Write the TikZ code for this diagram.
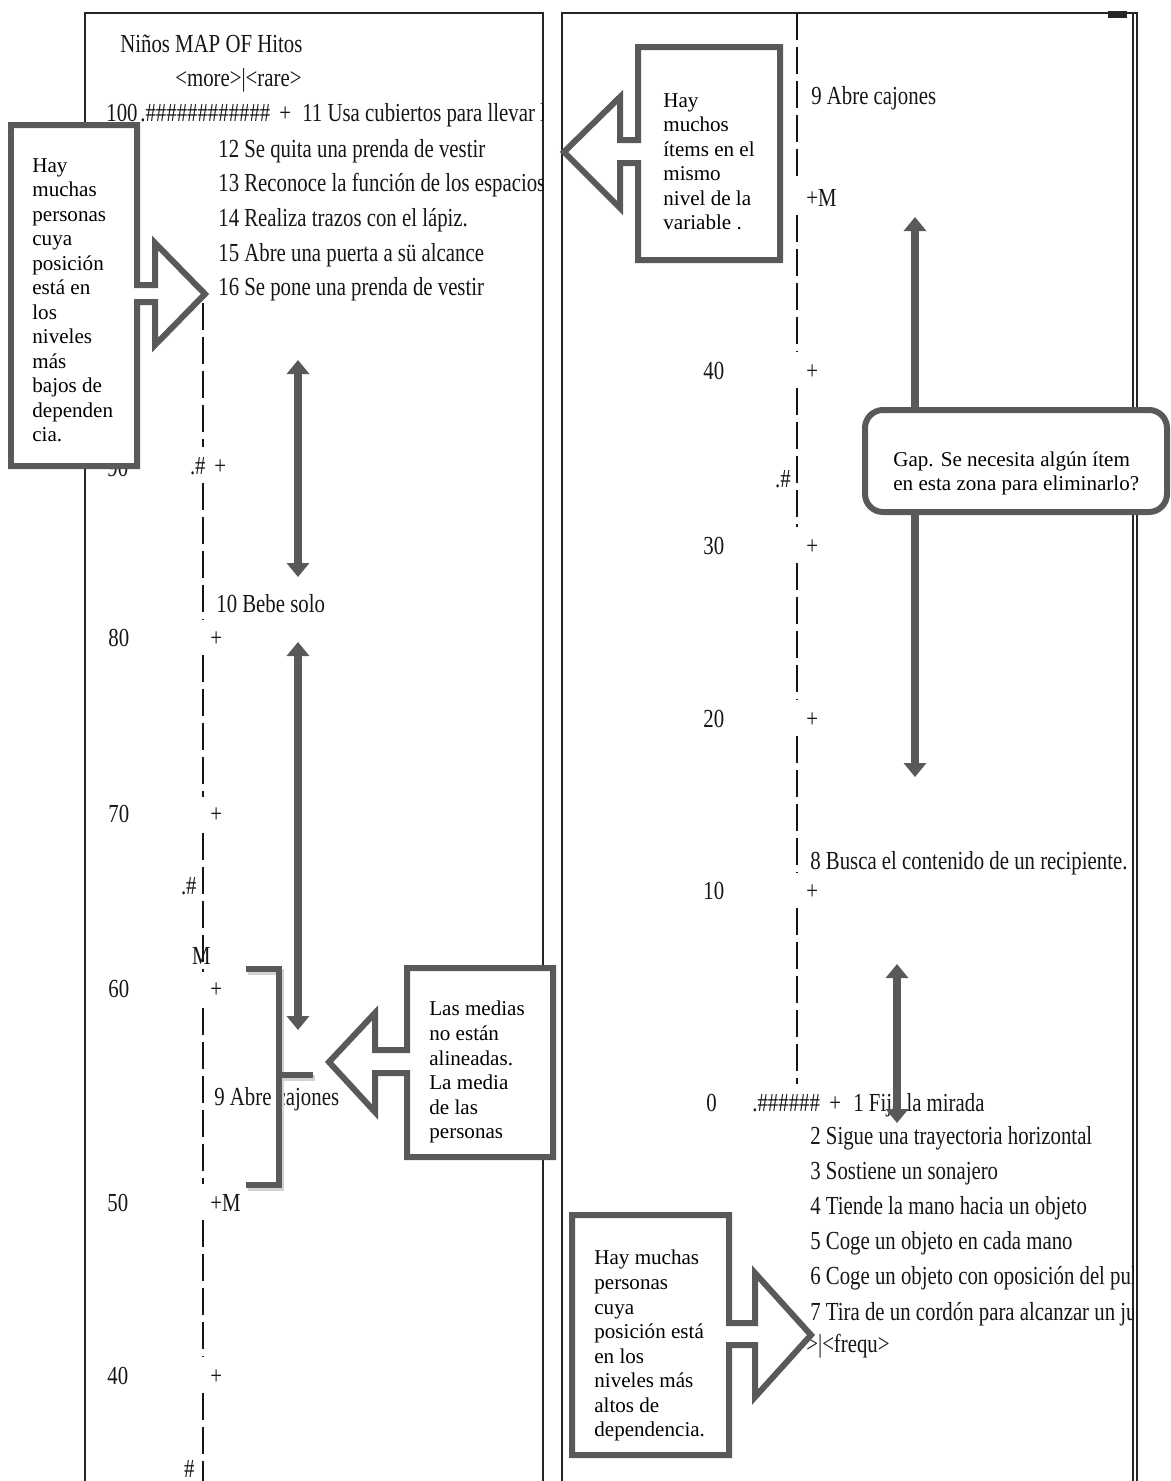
\documentclass[tikz,border=0pt]{standalone}
\usepackage{fontspec}
\setmainfont{Liberation Serif}
\newfontfamily\scanfont[FakeStretch=0.8]{Liberation Serif}
\usepackage{xcolor}
\usetikzlibrary{arrows.meta}
\definecolor{annotgray}{RGB}{89,89,89}
\definecolor{scanink}{RGB}{22,22,22}
\tikzset{
  scantxt/.style={anchor=base west, inner sep=0pt, text=scanink, font=\scanfont\fontsize{14.8pt}{17pt}\selectfont},
  scantxtr/.style={scantxt, anchor=base east},
  calltxt/.style={anchor=north west, inner sep=0pt, align=left, font=\fontsize{12pt}{13.95pt}\selectfont},
  callbox/.style={draw=annotgray, line width=0.12cm, fill=white, line join=miter},
  dblarr/.style={draw=annotgray, line width=0.17cm, {Triangle[width=0.44cm,length=0.28cm]}-{Triangle[width=0.44cm,length=0.28cm]}},
  bracketline/.style={draw=annotgray, line width=0.11cm},
  axisline/.style={draw=scanink, line width=0.025cm, dash pattern=on 0.54cm off 0.14cm},
  frameline/.style={draw=black!85, line width=0.028cm}
}

\begin{document}
\begin{tikzpicture}[x=0.02cm, y=-0.02cm]
\fill[white] (0,0) rectangle (1170,1481);
\useasboundingbox (0,0) rectangle (1170,1481);

% scanned map, two panels
\draw[frameline] (85,1481) -- (85,13) -- (543,13) -- (543,1481);
\draw[frameline] (562,1481) -- (562,13) -- (1137,13) -- (1137,1481);
\draw[frameline] (1133,13) -- (1133,1481);
\fill[black!85] (1108,11) rectangle (1127,18);

\begin{scope}
\clip (85,13) rectangle (543,1481);
\foreach \ya/\yb in {303/447, 483/619, 655/797, 833/972, 1008/1184, 1220/1357, 1393/1481}
  \draw[axisline] (203,\ya) -- (203,\yb);
\node[scantxt] (ttl) at (120,52) {Niños MAP OF Hitos};
\node[scantxt] (morerare) at (175,86) {<more>|<rare>};
\node[scantxt] (l100) at (106,121) {100};
\node[scantxt] (h100) at (140,121) {.\#\#\#\#\#\#\#\#\#\#\#\#};
\node[scantxt] (p100) at (279,121) {+};
\node[scantxt] (it11) at (302,121) {11 Usa cubiertos para llevar l};
\node[scantxt] (it12) at (218,157) {12 Se quita una prenda de vestir};
\node[scantxt] (it13) at ([yshift=-0.695cm]it12.base west) {13 Reconoce la función de los espacios};
\node[scantxt] (it14) at ([yshift=-0.695cm]it13.base west) {14 Realiza trazos con el lápiz.};
\node[scantxt] (it15) at ([yshift=-0.695cm]it14.base west) {15 Abre una puerta a sü alcance};
\node[scantxt] (it16) at ([yshift=-0.695cm]it15.base west) {16 Se pone una prenda de vestir};
\node[scantxt] (l90) at (107,476) {90};
\node[scantxtr] (h90) at (206,474) {.\#};
\node[scantxt] (p90) at (214,474) {+};
\node[scantxt] (it10) at (216,612) {10 Bebe solo};
\node[scantxt] (l80) at (108,646) {80};
\node[scantxt] (p80) at (210,646) {+};
\node[scantxt] (l70) at (108,822) {70};
\node[scantxt] (p70) at (210,822) {+};
\node[scantxtr] (h67) at (197,894) {.\#};
\node[scantxtr] (mkids) at (211,964) {M};
\node[scantxt] (l60) at (108,997) {60};
\node[scantxt] (p60) at (210,997) {+};
\node[scantxt] (it9l) at (214,1105) {9 Abre cajones};
\node[scantxt] (l50) at (107,1211) {50};
\node[scantxt] (p50) at (210,1211) {+M};
\node[scantxt] (l40) at (107,1384) {40};
\node[scantxt] (p40) at (210,1384) {+};
\node[scantxtr] (h35) at (195,1477) {\#};
\end{scope}

\begin{scope}
\clip (562,13) rectangle (1133,1481);
\foreach \ya/\yb in {13/179, 215/352, 388/527, 563/700, 736/872, 908/1084}
  \draw[axisline] (797,\ya) -- (797,\yb);
\node[scantxt] (it9r) at (811,104) {9 Abre cajones};
\node[scantxt] (mpers) at (806,206) {+M};
\node[scantxt] (r40) at (703,379) {40};
\node[scantxt] (q40) at (806,379) {+};
\node[scantxtr] (g35) at (791,487) {.\#};
\node[scantxt] (r30) at (703,554) {30};
\node[scantxt] (q30) at (806,554) {+};
\node[scantxt] (r20) at (703,727) {20};
\node[scantxt] (q20) at (806,727) {+};
\node[scantxt] (it8) at (810,869) {8 Busca el contenido de un recipiente.};
\node[scantxt] (r10) at (703,899) {10};
\node[scantxt] (q10) at (806,899) {+};
\node[scantxt] (r0) at (706,1111) {0};
\node[scantxt] (g0) at (752,1111) {.\#\#\#\#\#\#};
\node[scantxt] (q0) at (829,1111) {+};
\node[scantxt] (it1) at (853,1111) {1 Fija la mirada};
\node[scantxt] (it2) at (810,1144) {2 Sigue una trayectoria horizontal};
\node[scantxt] (it3) at ([yshift=-0.705cm]it2.base west) {3 Sostiene un sonajero};
\node[scantxt] (it4) at ([yshift=-0.705cm]it3.base west) {4 Tiende la mano hacia un objeto};
\node[scantxt] (it5) at ([yshift=-0.705cm]it4.base west) {5 Coge un objeto en cada mano};
\node[scantxt] (it6) at ([yshift=-0.705cm]it5.base west) {6 Coge un objeto con oposición del pul};
\node[scantxt] (it7) at ([yshift=-0.705cm]it6.base west) {7 Tira de un cordón para alcanzar un ju};
\node[scantxt] (freq) at (806,1352) {>|<frequ>};
\end{scope}

% gaps on the scale
\coordinate (upA) at (298,360);
\coordinate (dnA) at (298,577);
\coordinate (upB) at (298,642);
\coordinate (dnB) at (298,1030);
\coordinate (upC) at (915,217);
\coordinate (dnC) at (915,777);
\coordinate (upD) at (897,964);
\coordinate (dnD) at (897,1123);
\draw[dblarr] (upA) -- (dnA);
\draw[dblarr] (upB) -- (dnB);
\draw[dblarr] (upC) -- (dnC);
\draw[dblarr] (upD) -- (dnD);

\draw[bracketline, draw=gray!35, shift={(2,3)}] (246,969) -- (279,969) -- (279,1185) -- (246,1185) (279,1075) -- (313,1075);
\draw[bracketline] (246,969) -- (279,969) -- (279,1185) -- (246,1185) (279,1075) -- (313,1075);

% callouts
\draw[callbox] (11,125) -- (137,125) -- (137,285) -- (155,285) -- (155,243) -- (205,294) -- (155,345) -- (155,302) -- (137,302) -- (137,466) -- (11,466) -- cycle;
\draw[callbox] (638,47) -- (780,47) -- (780,260) -- (638,260) -- (638,163) -- (620,163) -- (620,208) -- (564,152) -- (620,97) -- (620,140) -- (638,140) -- cycle;
\draw[callbox] (407,968) -- (553,968) -- (553,1157) -- (407,1157) -- (407,1073) -- (375,1073) -- (375,1112) -- (329,1062) -- (375,1013) -- (375,1050) -- (407,1050) -- cycle;
\draw[callbox] (572,1215) -- (729,1215) -- (729,1323) -- (755,1323) -- (755,1273) -- (811,1335) -- (755,1397) -- (755,1345) -- (729,1345) -- (729,1455) -- (572,1455) -- cycle;
\draw[callbox, rounded corners=0.36cm] (865,410) rectangle (1167,512);

\node[calltxt] (noteA) at (32,158) {Hay\\muchas\\personas\\cuya\\posición\\está en\\los\\niveles\\más\\bajos de\\dependen\\cia.};
\node[calltxt] (noteB) at (663,93) {Hay\\muchos\\ítems en el\\mismo\\nivel de la\\variable .};
\node[calltxt] (noteC) at (429,1001) {Las medias\\no están\\alineadas.\\La media\\de las\\personas};
\node[calltxt] (noteD) at (594,1250) {Hay muchas\\personas\\cuya\\posición está\\en los\\niveles más\\altos de\\dependencia.};
\node[calltxt] (noteGap) at (893,451) {Gap. Se necesita algún ítem\\en esta zona para eliminarlo?};
\end{tikzpicture}
\end{document}
